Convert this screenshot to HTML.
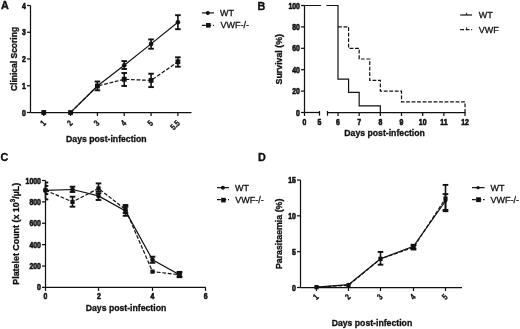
<!DOCTYPE html>
<html><head><meta charset="utf-8"><title>Figure</title>
<style>
html,body{margin:0;padding:0;background:#fff;}
body{width:520px;height:329px;overflow:hidden;}
svg{display:block;font-family:"Liberation Sans", sans-serif;will-change:transform;}
text{stroke:#111;}
</style></head><body>
<svg width="520" height="329" viewBox="0 0 520 329">
<rect width="520" height="329" fill="#fff"/>
<g stroke="#111" fill="#111" stroke-linecap="butt">
<text transform="translate(1.00 8.80)" font-size="10.8" font-weight="bold" text-anchor="start" stroke-width="0.35">A</text>
<text transform="translate(257.60 9.50)" font-size="10.8" font-weight="bold" text-anchor="start" stroke-width="0.35">B</text>
<text transform="translate(0.50 160.60)" font-size="10.8" font-weight="bold" text-anchor="start" stroke-width="0.35">C</text>
<text transform="translate(257.90 160.60)" font-size="10.8" font-weight="bold" text-anchor="start" stroke-width="0.35">D</text>
<line x1="30.50" y1="5.50" x2="30.50" y2="112.50" stroke-width="1.25"/>
<line x1="27.00" y1="112.50" x2="30.50" y2="112.50" stroke-width="1.25"/>
<text transform="translate(25.90 115.50) scale(1 1.25)" font-size="6.9" font-weight="bold" text-anchor="end" stroke-width="0.5">0</text>
<line x1="27.00" y1="85.75" x2="30.50" y2="85.75" stroke-width="1.25"/>
<text transform="translate(25.90 88.75) scale(1 1.25)" font-size="6.9" font-weight="bold" text-anchor="end" stroke-width="0.5">1</text>
<line x1="27.00" y1="59.00" x2="30.50" y2="59.00" stroke-width="1.25"/>
<text transform="translate(25.90 62.00) scale(1 1.25)" font-size="6.9" font-weight="bold" text-anchor="end" stroke-width="0.5">2</text>
<line x1="27.00" y1="32.25" x2="30.50" y2="32.25" stroke-width="1.25"/>
<text transform="translate(25.90 35.25) scale(1 1.25)" font-size="6.9" font-weight="bold" text-anchor="end" stroke-width="0.5">3</text>
<line x1="27.00" y1="5.50" x2="30.50" y2="5.50" stroke-width="1.25"/>
<text transform="translate(25.90 8.50) scale(1 1.25)" font-size="6.9" font-weight="bold" text-anchor="end" stroke-width="0.5">4</text>
<line x1="30.50" y1="112.50" x2="191.50" y2="112.50" stroke-width="1.25"/>
<line x1="43.75" y1="112.50" x2="43.75" y2="116.00" stroke-width="1.25"/>
<text transform="translate(46.40 123.70) rotate(-45) scale(1 1.25)" font-size="6.9" font-weight="bold" text-anchor="end" stroke-width="0.25">1</text>
<line x1="70.58" y1="112.50" x2="70.58" y2="116.00" stroke-width="1.25"/>
<text transform="translate(73.23 123.70) rotate(-45) scale(1 1.25)" font-size="6.9" font-weight="bold" text-anchor="end" stroke-width="0.25">2</text>
<line x1="97.41" y1="112.50" x2="97.41" y2="116.00" stroke-width="1.25"/>
<text transform="translate(100.06 123.70) rotate(-45) scale(1 1.25)" font-size="6.9" font-weight="bold" text-anchor="end" stroke-width="0.25">3</text>
<line x1="124.24" y1="112.50" x2="124.24" y2="116.00" stroke-width="1.25"/>
<text transform="translate(126.89 123.70) rotate(-45) scale(1 1.25)" font-size="6.9" font-weight="bold" text-anchor="end" stroke-width="0.25">4</text>
<line x1="151.07" y1="112.50" x2="151.07" y2="116.00" stroke-width="1.25"/>
<text transform="translate(153.72 123.70) rotate(-45) scale(1 1.25)" font-size="6.9" font-weight="bold" text-anchor="end" stroke-width="0.25">5</text>
<line x1="177.90" y1="112.50" x2="177.90" y2="116.00" stroke-width="1.25"/>
<text transform="translate(180.55 123.70) rotate(-45) scale(1 1.25)" font-size="6.9" font-weight="bold" text-anchor="end" stroke-width="0.25">5.5</text>
<text transform="translate(16.60 59.00) rotate(-90) scale(1 1.1)" font-size="8.5" font-weight="bold" text-anchor="middle" stroke-width="0.3">Clinical Scoring</text>
<text transform="translate(106.30 141.83) scale(1 1.1)" font-size="8.7" font-weight="bold" text-anchor="middle" stroke-width="0.3">Days post-infection</text>
<path d="M43.75,112.50 L70.58,112.50 L97.41,86.00 L124.24,79.30 L151.07,80.40 L177.90,61.80" fill="none" stroke-width="1.2" stroke-dasharray="3.8 1.7"/>
<path d="M43.75,112.50 L70.58,112.50 L97.41,86.00 L124.24,65.30 L151.07,43.90 L177.90,22.30" fill="none" stroke-width="1.2"/>
<line x1="97.41" y1="81.50" x2="97.41" y2="90.30" stroke-width="1.6"/>
<line x1="94.61" y1="81.50" x2="100.21" y2="81.50" stroke-width="1.9"/>
<line x1="94.61" y1="90.30" x2="100.21" y2="90.30" stroke-width="1.9"/>
<line x1="124.24" y1="61.10" x2="124.24" y2="69.00" stroke-width="1.6"/>
<line x1="121.44" y1="61.10" x2="127.04" y2="61.10" stroke-width="1.9"/>
<line x1="121.44" y1="69.00" x2="127.04" y2="69.00" stroke-width="1.9"/>
<line x1="151.07" y1="39.40" x2="151.07" y2="48.70" stroke-width="1.6"/>
<line x1="148.27" y1="39.40" x2="153.87" y2="39.40" stroke-width="1.9"/>
<line x1="148.27" y1="48.70" x2="153.87" y2="48.70" stroke-width="1.9"/>
<line x1="177.90" y1="15.20" x2="177.90" y2="29.20" stroke-width="1.6"/>
<line x1="175.10" y1="15.20" x2="180.70" y2="15.20" stroke-width="1.9"/>
<line x1="175.10" y1="29.20" x2="180.70" y2="29.20" stroke-width="1.9"/>
<line x1="124.24" y1="73.00" x2="124.24" y2="86.00" stroke-width="1.6"/>
<line x1="121.44" y1="73.00" x2="127.04" y2="73.00" stroke-width="1.9"/>
<line x1="121.44" y1="86.00" x2="127.04" y2="86.00" stroke-width="1.9"/>
<line x1="151.07" y1="73.70" x2="151.07" y2="87.10" stroke-width="1.6"/>
<line x1="148.27" y1="73.70" x2="153.87" y2="73.70" stroke-width="1.9"/>
<line x1="148.27" y1="87.10" x2="153.87" y2="87.10" stroke-width="1.9"/>
<line x1="177.90" y1="57.30" x2="177.90" y2="66.70" stroke-width="1.6"/>
<line x1="175.10" y1="57.30" x2="180.70" y2="57.30" stroke-width="1.9"/>
<line x1="175.10" y1="66.70" x2="180.70" y2="66.70" stroke-width="1.9"/>
<circle cx="43.75" cy="112.50" r="2.3" fill="#111" stroke="none"/>
<circle cx="70.58" cy="112.50" r="2.3" fill="#111" stroke="none"/>
<circle cx="97.41" cy="86.00" r="2.3" fill="#111" stroke="none"/>
<circle cx="124.24" cy="65.30" r="2.3" fill="#111" stroke="none"/>
<circle cx="151.07" cy="43.90" r="2.3" fill="#111" stroke="none"/>
<circle cx="177.90" cy="22.30" r="2.3" fill="#111" stroke="none"/>
<rect x="41.35" y="110.10" width="4.8" height="4.8" fill="#111" stroke="none"/>
<rect x="68.18" y="110.10" width="4.8" height="4.8" fill="#111" stroke="none"/>
<rect x="95.01" y="83.60" width="4.8" height="4.8" fill="#111" stroke="none"/>
<rect x="121.84" y="76.90" width="4.8" height="4.8" fill="#111" stroke="none"/>
<rect x="148.67" y="78.00" width="4.8" height="4.8" fill="#111" stroke="none"/>
<rect x="175.50" y="59.40" width="4.8" height="4.8" fill="#111" stroke="none"/>
<line x1="201.90" y1="12.90" x2="213.90" y2="12.90" stroke-width="1.2"/>
<circle cx="207.80" cy="12.90" r="2.0" fill="#111" stroke="none"/>
<text transform="translate(220.00 15.72)" font-size="9.0" font-weight="normal" text-anchor="start" stroke-width="0.3">WT</text>
<line x1="201.90" y1="25.30" x2="213.90" y2="25.30" stroke-width="1.2" stroke-dasharray="3.8 1.7"/>
<rect x="206.00" y="23.00" width="4.6" height="4.6" fill="#111" stroke="none"/>
<text transform="translate(220.60 27.82)" font-size="9.0" font-weight="normal" text-anchor="start" stroke-width="0.3">VWF-/-</text>
<line x1="304.50" y1="5.50" x2="304.50" y2="112.50" stroke-width="1.25"/>
<line x1="301.00" y1="112.50" x2="304.50" y2="112.50" stroke-width="1.25"/>
<text transform="translate(299.90 115.55) scale(1 1.25)" font-size="6.9" font-weight="bold" text-anchor="end" stroke-width="0.5">0</text>
<line x1="301.00" y1="91.10" x2="304.50" y2="91.10" stroke-width="1.25"/>
<text transform="translate(299.90 94.15) scale(1 1.25)" font-size="6.9" font-weight="bold" text-anchor="end" stroke-width="0.5">20</text>
<line x1="301.00" y1="69.70" x2="304.50" y2="69.70" stroke-width="1.25"/>
<text transform="translate(299.90 72.75) scale(1 1.25)" font-size="6.9" font-weight="bold" text-anchor="end" stroke-width="0.5">40</text>
<line x1="301.00" y1="48.30" x2="304.50" y2="48.30" stroke-width="1.25"/>
<text transform="translate(299.90 51.35) scale(1 1.25)" font-size="6.9" font-weight="bold" text-anchor="end" stroke-width="0.5">60</text>
<line x1="301.00" y1="26.90" x2="304.50" y2="26.90" stroke-width="1.25"/>
<text transform="translate(299.90 29.95) scale(1 1.25)" font-size="6.9" font-weight="bold" text-anchor="end" stroke-width="0.5">80</text>
<line x1="301.00" y1="5.50" x2="304.50" y2="5.50" stroke-width="1.25"/>
<text transform="translate(299.90 8.55) scale(1 1.25)" font-size="6.9" font-weight="bold" text-anchor="end" stroke-width="0.5">100</text>
<line x1="304.50" y1="112.50" x2="319.50" y2="112.50" stroke-width="1.25"/>
<line x1="319.50" y1="111.00" x2="319.50" y2="115.70" stroke-width="1.25"/>
<line x1="304.50" y1="112.50" x2="304.50" y2="116.00" stroke-width="1.25"/>
<line x1="327.50" y1="112.50" x2="465.50" y2="112.50" stroke-width="1.25"/>
<line x1="327.50" y1="111.00" x2="327.50" y2="115.70" stroke-width="1.25"/>
<line x1="338.00" y1="112.50" x2="338.00" y2="116.00" stroke-width="1.25"/>
<line x1="359.17" y1="112.50" x2="359.17" y2="116.00" stroke-width="1.25"/>
<line x1="380.34" y1="112.50" x2="380.34" y2="116.00" stroke-width="1.25"/>
<line x1="401.51" y1="112.50" x2="401.51" y2="116.00" stroke-width="1.25"/>
<line x1="422.68" y1="112.50" x2="422.68" y2="116.00" stroke-width="1.25"/>
<line x1="443.85" y1="112.50" x2="443.85" y2="116.00" stroke-width="1.25"/>
<line x1="465.02" y1="112.50" x2="465.02" y2="116.00" stroke-width="1.25"/>
<text transform="translate(304.50 124.70) scale(1 1.25)" font-size="6.9" font-weight="bold" text-anchor="middle" stroke-width="0.5">0</text>
<text transform="translate(319.50 124.70) scale(1 1.25)" font-size="6.9" font-weight="bold" text-anchor="middle" stroke-width="0.5">5</text>
<text transform="translate(338.00 124.70) scale(1 1.25)" font-size="6.9" font-weight="bold" text-anchor="middle" stroke-width="0.5">6</text>
<text transform="translate(359.17 124.70) scale(1 1.25)" font-size="6.9" font-weight="bold" text-anchor="middle" stroke-width="0.5">7</text>
<text transform="translate(380.34 124.70) scale(1 1.25)" font-size="6.9" font-weight="bold" text-anchor="middle" stroke-width="0.5">8</text>
<text transform="translate(401.51 124.70) scale(1 1.25)" font-size="6.9" font-weight="bold" text-anchor="middle" stroke-width="0.5">9</text>
<text transform="translate(422.68 124.70) scale(1 1.25)" font-size="6.9" font-weight="bold" text-anchor="middle" stroke-width="0.5">10</text>
<text transform="translate(443.85 124.70) scale(1 1.25)" font-size="6.9" font-weight="bold" text-anchor="middle" stroke-width="0.5">11</text>
<text transform="translate(465.02 124.70) scale(1 1.25)" font-size="6.9" font-weight="bold" text-anchor="middle" stroke-width="0.5">12</text>
<text transform="translate(282.00 59.25) rotate(-90) scale(1 1.1)" font-size="8.8" font-weight="bold" text-anchor="middle" stroke-width="0.3">Survival (%)</text>
<text transform="translate(384.60 135.63) scale(1 1.1)" font-size="8.7" font-weight="bold" text-anchor="middle" stroke-width="0.3">Days post-infection</text>
<path d="M304.5,5.5 H321 M326.5,5.5 H338.0 V79.06 H348.58 V92.44 H359.17 V105.81 H380.34 V112.5" fill="none" stroke-width="1.2"/>
<path d="M338.0,26.90 H348.58 V48.30 H359.17 V59.00 H369.75 V80.40 H380.34 V91.10 H401.51 V101.80 H465.02 V112.5" fill="none" stroke-width="1.2" stroke-dasharray="3.8 1.7"/>
<line x1="460.20" y1="15.00" x2="472.10" y2="15.00" stroke-width="1.2"/>
<line x1="466.60" y1="12.80" x2="466.60" y2="15.00" stroke-width="1.0"/>
<text transform="translate(478.80 17.72)" font-size="9.0" font-weight="normal" text-anchor="start" stroke-width="0.3">WT</text>
<line x1="460.20" y1="29.60" x2="472.10" y2="29.60" stroke-width="1.2" stroke-dasharray="3.8 1.7"/>
<line x1="466.60" y1="27.40" x2="466.60" y2="29.60" stroke-width="1.0"/>
<text transform="translate(478.80 32.72)" font-size="9.0" font-weight="normal" text-anchor="start" stroke-width="0.3">VWF</text>
<line x1="45.50" y1="180.50" x2="45.50" y2="287.40" stroke-width="1.25"/>
<line x1="42.00" y1="287.40" x2="45.50" y2="287.40" stroke-width="1.25"/>
<text transform="translate(40.90 290.40) scale(1 1.25)" font-size="6.9" font-weight="bold" text-anchor="end" stroke-width="0.5">0</text>
<line x1="42.00" y1="266.02" x2="45.50" y2="266.02" stroke-width="1.25"/>
<text transform="translate(40.90 269.02) scale(1 1.25)" font-size="6.9" font-weight="bold" text-anchor="end" stroke-width="0.5">200</text>
<line x1="42.00" y1="244.64" x2="45.50" y2="244.64" stroke-width="1.25"/>
<text transform="translate(40.90 247.64) scale(1 1.25)" font-size="6.9" font-weight="bold" text-anchor="end" stroke-width="0.5">400</text>
<line x1="42.00" y1="223.26" x2="45.50" y2="223.26" stroke-width="1.25"/>
<text transform="translate(40.90 226.26) scale(1 1.25)" font-size="6.9" font-weight="bold" text-anchor="end" stroke-width="0.5">600</text>
<line x1="42.00" y1="201.88" x2="45.50" y2="201.88" stroke-width="1.25"/>
<text transform="translate(40.90 204.88) scale(1 1.25)" font-size="6.9" font-weight="bold" text-anchor="end" stroke-width="0.5">800</text>
<line x1="42.00" y1="180.50" x2="45.50" y2="180.50" stroke-width="1.25"/>
<text transform="translate(40.90 183.50) scale(1 1.25)" font-size="6.9" font-weight="bold" text-anchor="end" stroke-width="0.5">1000</text>
<line x1="45.50" y1="287.40" x2="205.70" y2="287.40" stroke-width="1.25"/>
<line x1="45.50" y1="287.40" x2="45.50" y2="290.90" stroke-width="1.25"/>
<text transform="translate(45.50 299.30) scale(1 1.25)" font-size="6.9" font-weight="bold" text-anchor="middle" stroke-width="0.5">0</text>
<line x1="98.50" y1="287.40" x2="98.50" y2="290.90" stroke-width="1.25"/>
<text transform="translate(98.90 299.30) scale(1 1.25)" font-size="6.9" font-weight="bold" text-anchor="middle" stroke-width="0.5">2</text>
<line x1="152.50" y1="287.40" x2="152.50" y2="290.90" stroke-width="1.25"/>
<text transform="translate(152.30 299.30) scale(1 1.25)" font-size="6.9" font-weight="bold" text-anchor="middle" stroke-width="0.5">4</text>
<line x1="205.50" y1="287.40" x2="205.50" y2="290.90" stroke-width="1.25"/>
<text transform="translate(205.70 299.30) scale(1 1.25)" font-size="6.9" font-weight="bold" text-anchor="middle" stroke-width="0.5">6</text>
<text transform="translate(18.50 233.80) rotate(-90) scale(1 1.1)" font-size="8.9" font-weight="bold" text-anchor="middle" stroke-width="0.3">Platelet Count (x 10<tspan font-size="6.23" dy="-3">3</tspan><tspan dy="3">/µL)</tspan></text>
<text transform="translate(126.00 311.03) scale(1 1.1)" font-size="8.7" font-weight="bold" text-anchor="middle" stroke-width="0.3">Days post-infection</text>
<path d="M45.50,190.30 L72.50,201.90 L98.50,188.40 L125.50,209.50 L152.50,271.60 L179.50,274.70" fill="none" stroke-width="1.2" stroke-dasharray="3.8 1.7"/>
<path d="M45.50,190.30 L72.50,189.50 L98.50,195.90 L125.50,210.90 L152.50,259.80 L179.50,274.70" fill="none" stroke-width="1.2"/>
<line x1="45.50" y1="182.50" x2="45.50" y2="199.40" stroke-width="1.6"/>
<line x1="45.50" y1="182.50" x2="48.30" y2="182.50" stroke-width="1.9"/>
<line x1="45.50" y1="199.40" x2="48.30" y2="199.40" stroke-width="1.9"/>
<line x1="72.50" y1="186.70" x2="72.50" y2="192.00" stroke-width="1.6"/>
<line x1="69.70" y1="186.70" x2="75.30" y2="186.70" stroke-width="1.9"/>
<line x1="69.70" y1="192.00" x2="75.30" y2="192.00" stroke-width="1.9"/>
<line x1="98.50" y1="193.40" x2="98.50" y2="200.00" stroke-width="1.6"/>
<line x1="95.70" y1="193.40" x2="101.30" y2="193.40" stroke-width="1.9"/>
<line x1="95.70" y1="200.00" x2="101.30" y2="200.00" stroke-width="1.9"/>
<line x1="125.50" y1="205.00" x2="125.50" y2="215.80" stroke-width="1.6"/>
<line x1="122.70" y1="205.00" x2="128.30" y2="205.00" stroke-width="1.9"/>
<line x1="122.70" y1="215.80" x2="128.30" y2="215.80" stroke-width="1.9"/>
<line x1="152.50" y1="256.70" x2="152.50" y2="262.80" stroke-width="1.6"/>
<line x1="149.70" y1="256.70" x2="155.30" y2="256.70" stroke-width="1.9"/>
<line x1="149.70" y1="262.80" x2="155.30" y2="262.80" stroke-width="1.9"/>
<line x1="179.50" y1="271.90" x2="179.50" y2="277.20" stroke-width="1.6"/>
<line x1="176.70" y1="271.90" x2="182.30" y2="271.90" stroke-width="1.9"/>
<line x1="176.70" y1="277.20" x2="182.30" y2="277.20" stroke-width="1.9"/>
<line x1="45.50" y1="185.90" x2="45.50" y2="194.10" stroke-width="1.6"/>
<line x1="45.50" y1="185.90" x2="48.30" y2="185.90" stroke-width="1.9"/>
<line x1="45.50" y1="194.10" x2="48.30" y2="194.10" stroke-width="1.9"/>
<line x1="72.50" y1="196.70" x2="72.50" y2="206.70" stroke-width="1.6"/>
<line x1="69.70" y1="196.70" x2="75.30" y2="196.70" stroke-width="1.9"/>
<line x1="69.70" y1="206.70" x2="75.30" y2="206.70" stroke-width="1.9"/>
<line x1="98.50" y1="183.40" x2="98.50" y2="191.70" stroke-width="1.6"/>
<line x1="95.70" y1="183.40" x2="101.30" y2="183.40" stroke-width="1.9"/>
<line x1="95.70" y1="191.70" x2="101.30" y2="191.70" stroke-width="1.9"/>
<line x1="125.50" y1="206.70" x2="125.50" y2="213.00" stroke-width="1.6"/>
<line x1="122.70" y1="206.70" x2="128.30" y2="206.70" stroke-width="1.9"/>
<line x1="122.70" y1="213.00" x2="128.30" y2="213.00" stroke-width="1.9"/>
<line x1="179.50" y1="272.50" x2="179.50" y2="276.50" stroke-width="1.6"/>
<line x1="176.70" y1="272.50" x2="182.30" y2="272.50" stroke-width="1.9"/>
<line x1="176.70" y1="276.50" x2="182.30" y2="276.50" stroke-width="1.9"/>
<circle cx="45.50" cy="190.30" r="2.3" fill="#111" stroke="none"/>
<circle cx="72.50" cy="189.50" r="2.3" fill="#111" stroke="none"/>
<circle cx="98.50" cy="195.90" r="2.3" fill="#111" stroke="none"/>
<circle cx="125.50" cy="210.90" r="2.3" fill="#111" stroke="none"/>
<circle cx="152.50" cy="259.80" r="2.3" fill="#111" stroke="none"/>
<circle cx="179.50" cy="274.70" r="2.3" fill="#111" stroke="none"/>
<rect x="43.40" y="188.20" width="4.2" height="4.2" fill="#111" stroke="none"/>
<rect x="70.40" y="199.80" width="4.2" height="4.2" fill="#111" stroke="none"/>
<rect x="96.40" y="186.30" width="4.2" height="4.2" fill="#111" stroke="none"/>
<rect x="123.40" y="207.40" width="4.2" height="4.2" fill="#111" stroke="none"/>
<rect x="150.40" y="269.50" width="4.2" height="4.2" fill="#111" stroke="none"/>
<rect x="177.40" y="272.60" width="4.2" height="4.2" fill="#111" stroke="none"/>
<line x1="217.00" y1="187.65" x2="229.00" y2="187.65" stroke-width="1.2"/>
<circle cx="222.90" cy="187.65" r="2.0" fill="#111" stroke="none"/>
<text transform="translate(235.10 190.72)" font-size="9.0" font-weight="normal" text-anchor="start" stroke-width="0.3">WT</text>
<line x1="217.00" y1="199.70" x2="229.00" y2="199.70" stroke-width="1.2" stroke-dasharray="3.8 1.7"/>
<rect x="221.15" y="197.80" width="4.6" height="4.6" fill="#111" stroke="none"/>
<text transform="translate(235.30 202.72)" font-size="9.0" font-weight="normal" text-anchor="start" stroke-width="0.3">VWF-/-</text>
<line x1="300.50" y1="180.00" x2="300.50" y2="287.50" stroke-width="1.25"/>
<line x1="297.00" y1="287.50" x2="300.50" y2="287.50" stroke-width="1.25"/>
<text transform="translate(295.90 290.50) scale(1 1.25)" font-size="6.9" font-weight="bold" text-anchor="end" stroke-width="0.5">0</text>
<line x1="297.00" y1="251.67" x2="300.50" y2="251.67" stroke-width="1.25"/>
<text transform="translate(295.90 254.67) scale(1 1.25)" font-size="6.9" font-weight="bold" text-anchor="end" stroke-width="0.5">5</text>
<line x1="297.00" y1="215.83" x2="300.50" y2="215.83" stroke-width="1.25"/>
<text transform="translate(295.90 218.83) scale(1 1.25)" font-size="6.9" font-weight="bold" text-anchor="end" stroke-width="0.5">10</text>
<line x1="297.00" y1="180.00" x2="300.50" y2="180.00" stroke-width="1.25"/>
<text transform="translate(295.90 183.00) scale(1 1.25)" font-size="6.9" font-weight="bold" text-anchor="end" stroke-width="0.5">15</text>
<line x1="300.50" y1="287.50" x2="462.00" y2="287.50" stroke-width="1.25"/>
<line x1="316.50" y1="287.50" x2="316.50" y2="291.00" stroke-width="1.25"/>
<text transform="translate(319.15 297.50) rotate(-45) scale(1 1.25)" font-size="6.9" font-weight="bold" text-anchor="end" stroke-width="0.25">1</text>
<line x1="348.50" y1="287.50" x2="348.50" y2="291.00" stroke-width="1.25"/>
<text transform="translate(351.15 297.50) rotate(-45) scale(1 1.25)" font-size="6.9" font-weight="bold" text-anchor="end" stroke-width="0.25">2</text>
<line x1="380.50" y1="287.50" x2="380.50" y2="291.00" stroke-width="1.25"/>
<text transform="translate(383.15 297.50) rotate(-45) scale(1 1.25)" font-size="6.9" font-weight="bold" text-anchor="end" stroke-width="0.25">3</text>
<line x1="413.50" y1="287.50" x2="413.50" y2="291.00" stroke-width="1.25"/>
<text transform="translate(416.15 297.50) rotate(-45) scale(1 1.25)" font-size="6.9" font-weight="bold" text-anchor="end" stroke-width="0.25">4</text>
<line x1="445.50" y1="287.50" x2="445.50" y2="291.00" stroke-width="1.25"/>
<text transform="translate(448.15 297.50) rotate(-45) scale(1 1.25)" font-size="6.9" font-weight="bold" text-anchor="end" stroke-width="0.25">5</text>
<text transform="translate(282.00 233.90) rotate(-90) scale(1 1.1)" font-size="8.8" font-weight="bold" text-anchor="middle" stroke-width="0.3">Parasitaemia (%)</text>
<text transform="translate(371.90 326.03) scale(1 1.1)" font-size="8.7" font-weight="bold" text-anchor="middle" stroke-width="0.3">Days post-infection</text>
<path d="M316.50,287.14 L348.50,285.35 L380.50,258.83 L413.50,247.37 L445.50,198.60" fill="none" stroke-width="1.2" stroke-dasharray="3.8 1.7"/>
<path d="M316.50,287.14 L348.50,284.63 L380.50,258.83 L413.50,246.29 L445.50,201.00" fill="none" stroke-width="1.2"/>
<line x1="380.50" y1="251.90" x2="380.50" y2="264.70" stroke-width="1.6"/>
<line x1="377.70" y1="251.90" x2="383.30" y2="251.90" stroke-width="1.9"/>
<line x1="377.70" y1="264.70" x2="383.30" y2="264.70" stroke-width="1.9"/>
<line x1="413.50" y1="244.80" x2="413.50" y2="248.50" stroke-width="1.6"/>
<line x1="410.70" y1="244.80" x2="416.30" y2="244.80" stroke-width="1.9"/>
<line x1="410.70" y1="248.50" x2="416.30" y2="248.50" stroke-width="1.9"/>
<line x1="445.50" y1="194.10" x2="445.50" y2="209.90" stroke-width="1.6"/>
<line x1="442.70" y1="194.10" x2="448.30" y2="194.10" stroke-width="1.9"/>
<line x1="442.70" y1="209.90" x2="448.30" y2="209.90" stroke-width="1.9"/>
<line x1="413.50" y1="245.50" x2="413.50" y2="249.50" stroke-width="1.6"/>
<line x1="410.70" y1="245.50" x2="416.30" y2="245.50" stroke-width="1.9"/>
<line x1="410.70" y1="249.50" x2="416.30" y2="249.50" stroke-width="1.9"/>
<line x1="445.50" y1="184.90" x2="445.50" y2="211.20" stroke-width="1.6"/>
<line x1="442.70" y1="184.90" x2="448.30" y2="184.90" stroke-width="1.9"/>
<line x1="442.70" y1="211.20" x2="448.30" y2="211.20" stroke-width="1.9"/>
<circle cx="316.50" cy="287.14" r="1.8" fill="#111" stroke="none"/>
<circle cx="348.50" cy="284.63" r="1.8" fill="#111" stroke="none"/>
<circle cx="380.50" cy="258.83" r="1.8" fill="#111" stroke="none"/>
<circle cx="413.50" cy="246.29" r="1.8" fill="#111" stroke="none"/>
<circle cx="445.50" cy="201.00" r="1.8" fill="#111" stroke="none"/>
<rect x="314.40" y="285.04" width="4.2" height="4.2" fill="#111" stroke="none"/>
<rect x="346.40" y="283.25" width="4.2" height="4.2" fill="#111" stroke="none"/>
<rect x="378.40" y="256.73" width="4.2" height="4.2" fill="#111" stroke="none"/>
<rect x="411.40" y="245.27" width="4.2" height="4.2" fill="#111" stroke="none"/>
<rect x="443.40" y="196.50" width="4.2" height="4.2" fill="#111" stroke="none"/>
<line x1="472.00" y1="187.65" x2="484.60" y2="187.65" stroke-width="1.2"/>
<circle cx="478.10" cy="187.65" r="1.6" fill="#111" stroke="none"/>
<text transform="translate(490.60 190.62)" font-size="9.0" font-weight="normal" text-anchor="start" stroke-width="0.3">WT</text>
<line x1="472.00" y1="199.70" x2="484.60" y2="199.70" stroke-width="1.2" stroke-dasharray="3.8 1.7"/>
<rect x="476.10" y="197.30" width="4.8" height="4.8" fill="#111" stroke="none"/>
<text transform="translate(490.60 202.82)" font-size="9.0" font-weight="normal" text-anchor="start" stroke-width="0.3">VWF-/-</text>
</g>
</svg>
</body></html>
